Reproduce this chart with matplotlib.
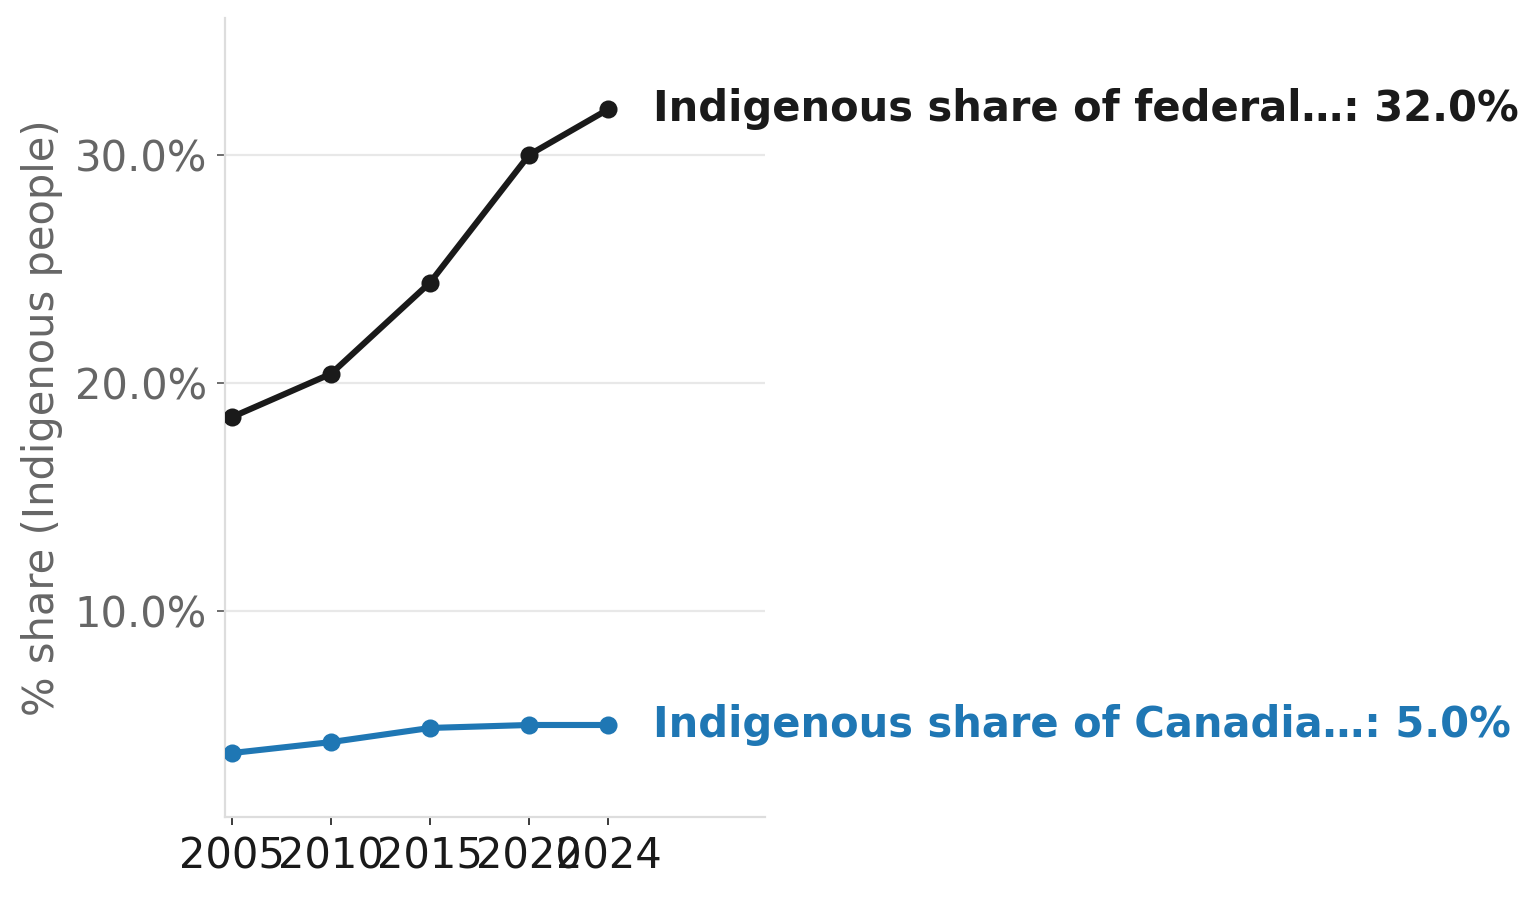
import matplotlib
matplotlib.use("Agg")
import matplotlib.pyplot as plt
from matplotlib.ticker import FuncFormatter

years = [2005, 2010, 2015, 2020, 2024]
federal_share = [18.5, 20.4, 24.4, 30.0, 32.0]
canada_share = [3.77, 4.25, 4.87, 5.0, 5.0]
series_labels = ["Indigenous share of federal…", "Indigenous share of Canadia…"]
series_colors = ["#1a1a1a", "#1f77b4"]
y_ticks = [10, 20, 30]
y_label = "% share (Indigenous people)"

fig = plt.figure(figsize=(7.69, 4.495), dpi=200)
ax = fig.add_axes([0.1463, 0.0912, 0.3511, 0.8888])

for vals, lab, col in zip([federal_share, canada_share], series_labels, series_colors):
    ax.plot(years, vals, color=col, linewidth=2.2, marker="o", markersize=5.5, zorder=3)
    ax.annotate(f"{lab}: {vals[-1]:.1f}%", xy=(years[-1], vals[-1]), xytext=(16, 0),
                textcoords="offset points", va="center", ha="left",
                fontsize=15, fontweight="bold", color=col, annotation_clip=False)

ax.set_xlim(2004.65, 2031.9)
ax.set_ylim(0.965, 36.0)
ax.set_xticks(years)
ax.set_yticks(y_ticks)
ax.yaxis.set_major_formatter(FuncFormatter(lambda v, p: f"{v:.1f}%"))
ax.grid(axis="y", color="#e8e8e8", linewidth=0.8)
ax.set_axisbelow(True)
for s in ["top", "right"]:
    ax.spines[s].set_visible(False)
for s in ["left", "bottom"]:
    ax.spines[s].set_color("#dddddd")
    ax.spines[s].set_linewidth(0.8)
ax.tick_params(axis="y", labelsize=15, labelcolor="#666666", color="#555555", length=3, width=0.6)
ax.tick_params(axis="x", labelsize=15, labelcolor="#1a1a1a", color="#1a1a1a", length=3, width=0.6)
ax.set_ylabel(y_label, fontsize=15, color="#666666")

fig.savefig("out.png", dpi=200)
